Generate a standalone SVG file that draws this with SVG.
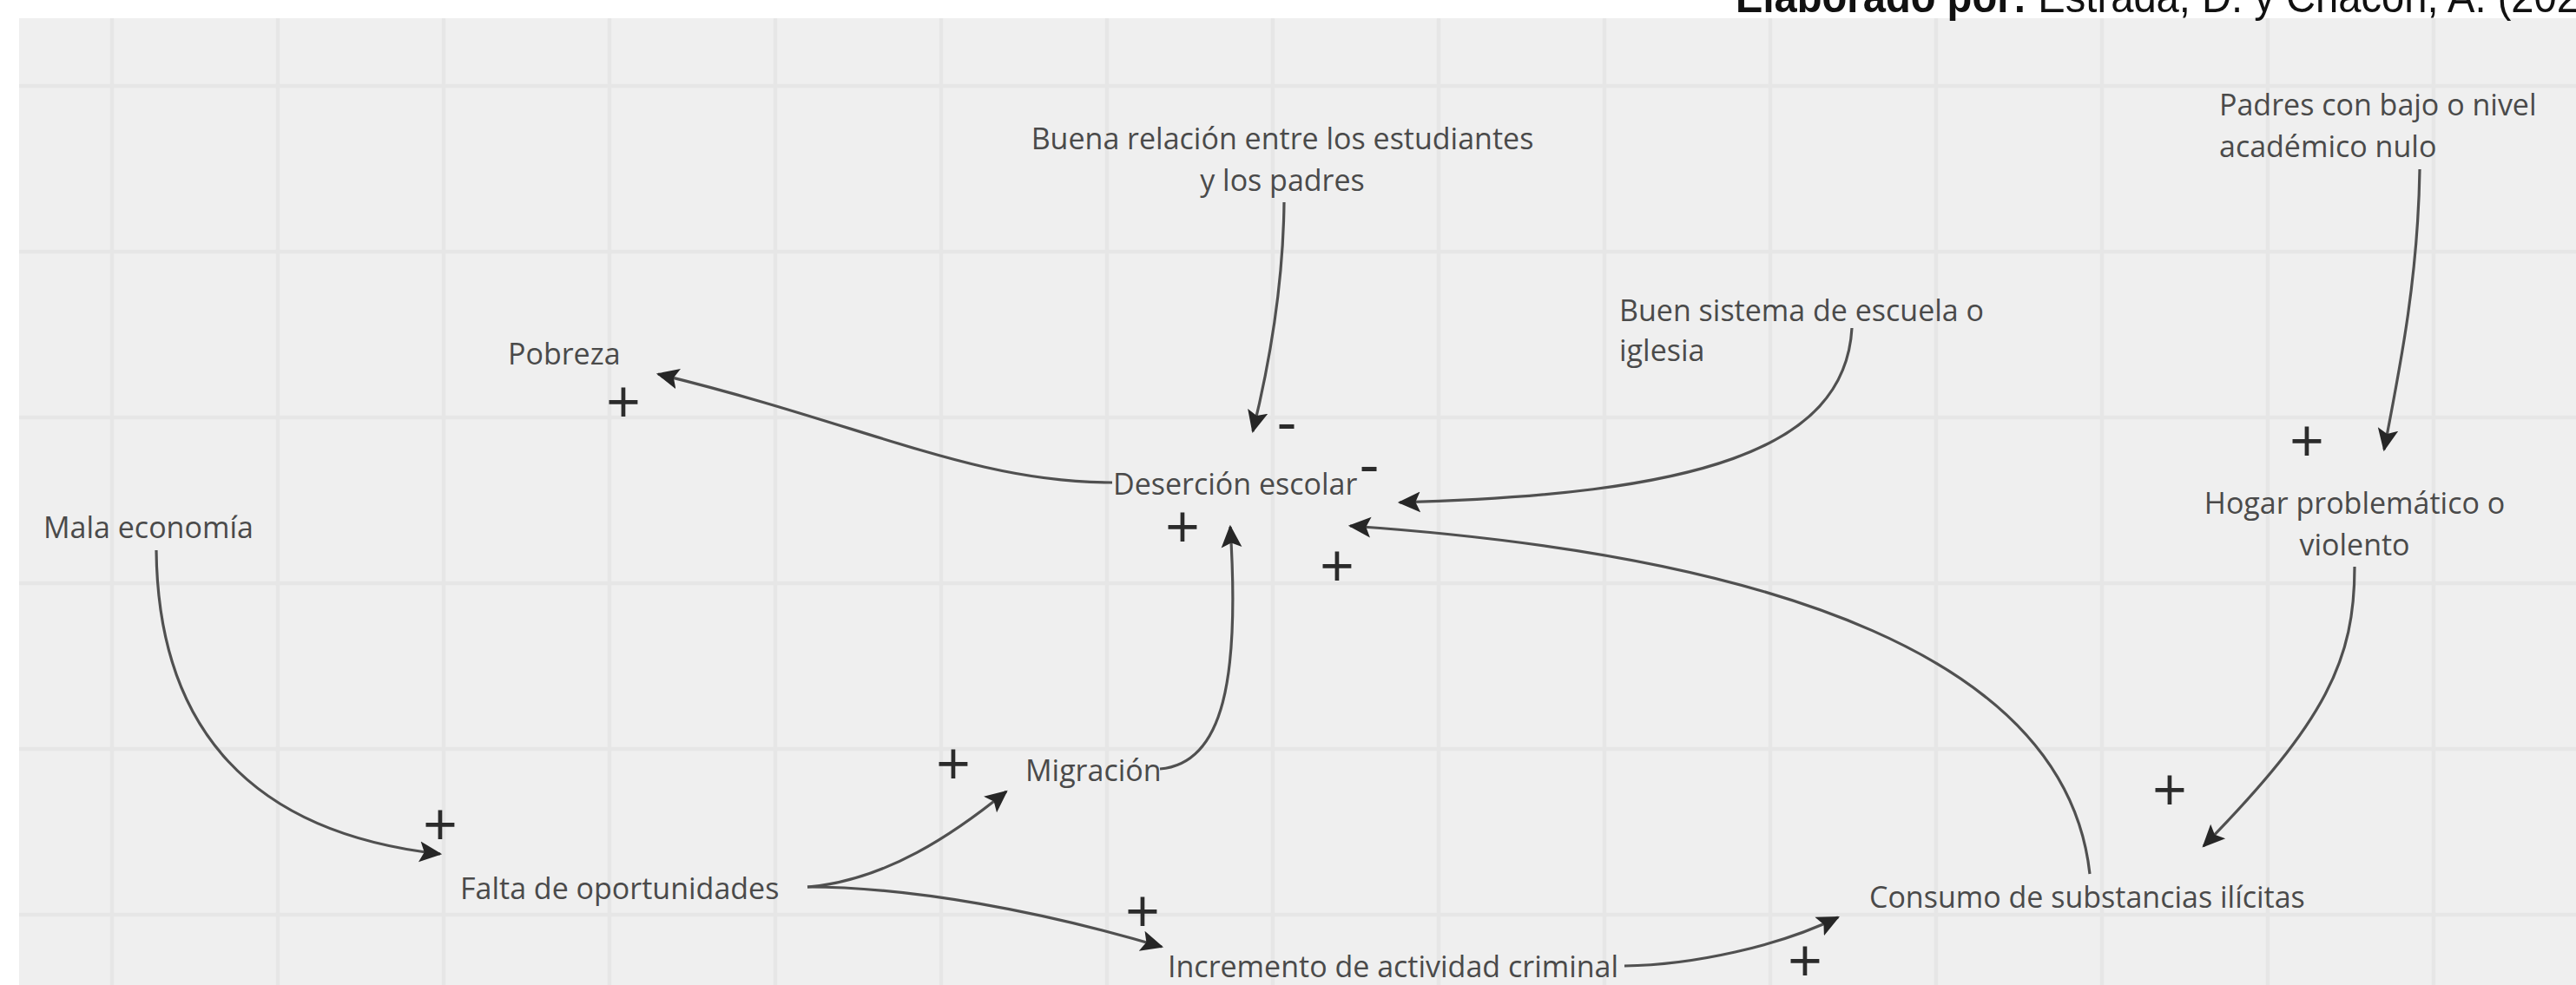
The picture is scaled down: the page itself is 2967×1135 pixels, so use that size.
<svg xmlns="http://www.w3.org/2000/svg" width="2967" height="1135" viewBox="0 0 2967 1135">
<style>
.lbl{font-family:"Open Sans","Liberation Sans",sans-serif;font-size:34px;fill:#4a4a4a}
.sign{font-family:"Open Sans","Liberation Sans",sans-serif;font-size:70px;fill:#2b2b2b;text-anchor:middle}
.c{fill:none;stroke:#505050;stroke-width:3.2;marker-end:url(#ah)}
.grid{stroke:#e6e6e6;stroke-width:4.5;fill:none}
.hdr{font-family:"Liberation Sans Narrow","Liberation Sans",Arial,sans-serif;font-size:50px;fill:#111}
</style>
<defs>
<marker id="ah" markerUnits="userSpaceOnUse" markerWidth="26" markerHeight="26" viewBox="0 0 24 24" refX="22" refY="12" orient="auto">
<path d="M0,1 L24,12 L0,23 L5,12 z" fill="#262626"/>
</marker>
</defs>
<rect x="0" y="0" width="2967" height="1135" fill="#ffffff"/>
<rect x="22" y="21" width="2945" height="1114" fill="#efefef"/>
<g id="grid">
<path class="grid" d="M129,21V1135 M320,21V1135 M511,21V1135 M702,21V1135 M893,21V1135 M1084,21V1135 M1275,21V1135 M1466,21V1135 M1657,21V1135 M1848,21V1135 M2039,21V1135 M2230,21V1135 M2421,21V1135 M2612,21V1135 M2803,21V1135"/>
<path class="grid" d="M22,99H2967 M22,290H2967 M22,481H2967 M22,672H2967 M22,863H2967 M22,1054H2967"/>
</g>
<g id="header">
<text class="hdr" x="1999" y="14" textLength="972" lengthAdjust="spacingAndGlyphs"><tspan font-weight="bold">Elaborado por:</tspan> Estrada, D. y Chacón, A. (202</text>
</g>
<g id="connectors">
<path class="c" d="M1281,556 C1120,556 1000,490 758,431"/>
<path class="c" d="M1479,233 C1478,330 1462,420 1443,497"/>
<path class="c" d="M2133,378 C2125,520 1950,570 1612,579"/>
<path class="c" d="M2407,1007 C2380,760 2050,640 1555,606"/>
<path class="c" d="M180,634 C182,840 290,960 507,984"/>
<path class="c" d="M930,1022 C1020,1015 1100,960 1159,912"/>
<path class="c" d="M930,1022 C1050,1022 1200,1050 1338,1091"/>
<path class="c" d="M1336,886 C1410,880 1428,780 1417,607"/>
<path class="c" d="M1871,1113 C1950,1112 2050,1090 2117,1057"/>
<path class="c" d="M2787,195 C2785,320 2765,420 2746,518"/>
<path class="c" d="M2712,653 C2712,760 2680,830 2538,975"/>
</g>
<g id="node-buena-relacion"><text class="lbl" text-anchor="middle"><tspan x="1477" y="172">Buena relación entre los estudiantes</tspan><tspan x="1477" y="220">y los padres</tspan></text></g>
<g id="node-padres"><text class="lbl"><tspan x="2556" y="133">Padres con bajo o nivel</tspan><tspan x="2556" y="181">académico nulo</tspan></text></g>
<g id="node-buen-sistema"><text class="lbl"><tspan x="1865" y="370">Buen sistema de escuela o</tspan><tspan x="1865" y="416">iglesia</tspan></text></g>
<g id="node-pobreza"><text class="lbl" x="585" y="420">Pobreza</text></g>
<g id="node-desercion"><text class="lbl" x="1282" y="570">Deserción escolar</text></g>
<g id="node-hogar"><text class="lbl" text-anchor="middle"><tspan x="2712" y="592">Hogar problemático o</tspan><tspan x="2712" y="640">violento</tspan></text></g>
<g id="node-mala-economia"><text class="lbl" x="50" y="620">Mala economía</text></g>
<g id="node-migracion"><text class="lbl" x="1181" y="900">Migración</text></g>
<g id="node-falta"><text class="lbl" x="530" y="1036">Falta de oportunidades</text></g>
<g id="node-consumo"><text class="lbl" x="2153" y="1046">Consumo de substancias ilícitas</text></g>
<g id="node-incremento"><text class="lbl" x="1345" y="1126">Incremento de actividad criminal</text></g>
<g id="signs">
<text class="sign" x="718" y="488">+</text>
<text class="sign" x="1362" y="632">+</text>
<text class="sign" x="1540" y="677">+</text>
<text class="sign" x="507" y="975">+</text>
<text class="sign" x="1098" y="905">+</text>
<text class="sign" x="1316" y="1075">+</text>
<text class="sign" x="2079" y="1132">+</text>
<text class="sign" x="2657" y="533">+</text>
<text class="sign" x="2499" y="935">+</text>
<text class="sign" x="1482" y="510">-</text>
<text class="sign" x="1577" y="559">-</text>
</g>
</svg>
